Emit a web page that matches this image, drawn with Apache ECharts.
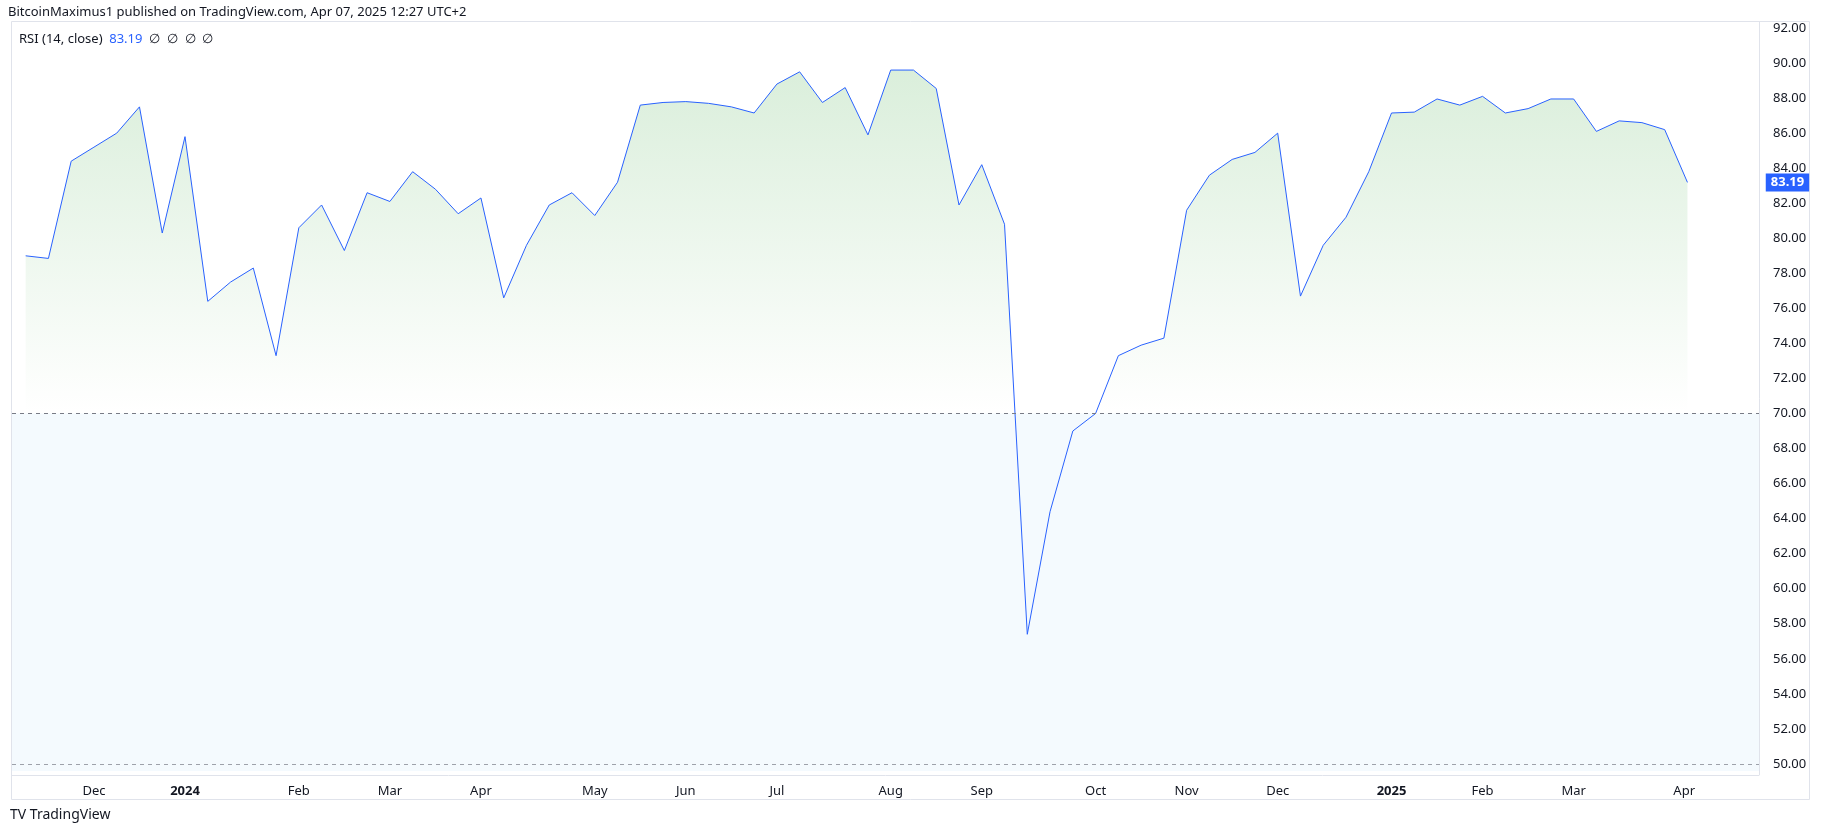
<!DOCTYPE html>
<html><head><meta charset="utf-8">
<script src="https://cdn.jsdelivr.net/npm/echarts@6/dist/echarts.min.js"></script>
<style>html,body{margin:0;padding:0;background:#fff}#c{width:1827px;height:836px}</style>
</head><body><div id="c"></div>
<script>
const startWeek = '2023-11-13';
const rsiValues = [79.0,78.85,84.4,85.2,86.0,87.5,80.3,85.8,76.4,77.5,78.3,73.3,80.6,81.9,79.3,82.6,82.1,83.8,82.8,81.4,82.3,76.6,79.6,81.9,82.6,81.3,83.2,87.6,87.75,87.8,87.7,87.5,87.15,88.8,89.5,87.75,88.6,85.9,89.6,89.6,88.55,81.9,84.2,80.8,57.4,64.4,69.0,70.0,73.3,73.9,74.3,81.6,83.6,84.5,84.9,86.0,76.7,79.6,81.2,83.8,87.15,87.2,87.95,87.6,88.1,87.15,87.4,87.95,87.95,86.1,86.7,86.6,86.2,83.19];
// label positions: first weekly bar of each month
const monthTicks = ['2023-12-04','2024-01-01','2024-02-05','2024-03-04','2024-04-01','2024-05-06','2024-06-03','2024-07-01','2024-08-05','2024-09-02','2024-10-07','2024-11-04','2024-12-02','2025-01-06','2025-02-03','2025-03-03','2025-04-06'];
const monthLabels = ['Dec','2024','Feb','Mar','Apr','May','Jun','Jul','Aug','Sep','Oct','Nov','Dec','2025','Feb','Mar','Apr'];
const yTicks = [50,52,54,56,58,60,62,64,66,68,70,72,74,76,78,80,82,84,86,88,90,92];
const lastValue = 83.19;

const DAY = 86400000;
const t0 = Date.parse(startWeek + 'T00:00:00Z');
const dayOf = d => Math.round((Date.parse(d + 'T00:00:00Z') - t0) / DAY);
const seriesData = rsiValues.map((v, i) => [i * 7, v]);
const tickDays = monthTicks.map(dayOf);
const labelMap = {}; tickDays.forEach((t, i) => labelMap[t] = monthLabels[i]);
const boldSet = {'2024': 1, '2025': 1};
const font = 'Noto Sans';

const chart = echarts.init(document.getElementById('c'), null, {renderer: 'canvas'});
chart.setOption({
  animation: false,
  backgroundColor: '#fff',
  textStyle: {fontFamily: font},
  graphic: [
    {type: 'text', left: 8, top: 6, style: {text: 'BitcoinMaximus1 published on TradingView.com, Apr 07, 2025 12:27 UTC+2', fill: '#131722', font: '13px ' + font}},
    {type: 'rect', shape: {x: 11.5, y: 21.5, width: 1798, height: 778}, style: {fill: 'none', stroke: '#e0e3eb', lineWidth: 1}, z: 0},
    {type: 'line', shape: {x1: 1759.5, y1: 21.5, x2: 1759.5, y2: 775}, style: {stroke: '#e0e3eb', lineWidth: 1}},
    {type: 'text', left: 19, top: 33, style: {rich: {a: {fill: '#131722', font: '13px ' + font}, b: {fill: '#2962ff', font: '13px ' + font}}, text: '{a|RSI (14, close)}  {b|83.19}  {a|∅  ∅  ∅  ∅}'}},
    {type: 'text', left: 10, top: 808, style: {text: 'TV TradingView', fill: '#131722', font: '14px ' + font}}
  ],
  grid: {left: 12, right: 68, top: 21, bottom: 61, show: false},
  xAxis: {
    type: 'value', min: -4.2, max: 533,
    axisLine: {show: true, onZero: false, lineStyle: {color: '#e0e3eb'}},
    axisTick: {show: false},
    splitLine: {show: false},
    axisLabel: {customValues: tickDays, formatter: v => { const s = labelMap[v] || ''; return boldSet[s] ? '{b|' + s + '}' : s; },
      rich: {b: {fontWeight: 'bold', fontSize: 13, color: '#131722', fontFamily: font}},
      color: '#131722', fontSize: 13, fontFamily: font, margin: 10}
  },
  yAxis: {
    type: 'value', position: 'right', min: 49.37, max: 92.4,
    axisLine: {show: false}, axisTick: {show: false}, splitLine: {show: false},
    axisLabel: {customValues: yTicks, formatter: v => v.toFixed(2), color: '#131722', fontSize: 13, fontFamily: font, margin: 14}
  },
  series: [{
    type: 'line', data: seriesData, symbol: 'none', clip: false,
    lineStyle: {color: '#2962ff', width: 1},
    areaStyle: {origin: 70, color: new echarts.graphic.LinearGradient(0, 60, 0, 413, [
      {offset: 0, color: 'rgba(76,175,80,0.30)'}, {offset: 1, color: 'rgba(76,175,80,0.0)'}], true)},
    markArea: {silent: true, itemStyle: {color: 'rgba(33,150,243,0.05)'}, data: [[{yAxis: 70}, {yAxis: 49.6}]]},
    markLine: {silent: true, symbol: 'none', animation: false, data: [
      {yAxis: 70, lineStyle: {color: '#787b86', type: [4, 4], width: 1}, label: {show: false}},
      {yAxis: 50, lineStyle: {color: '#787b86', type: [4, 4], width: 1, opacity: 0.7}, label: {show: false}}
    ]},
    markPoint: {silent: true, symbol: 'rect', symbolSize: 1, itemStyle: {color: 'transparent'},
      data: [{coord: [seriesData[seriesData.length - 1][0], lastValue], value: lastValue,
        label: {show: true, position: 'inside', offset: [100, 0], formatter: lastValue.toFixed(2),
          color: '#fff', backgroundColor: '#2962ff', padding: [3, 5, 2, 5], fontSize: 13, fontWeight: 'bold', fontFamily: font}}]}
  }]
});
</script></body></html>
